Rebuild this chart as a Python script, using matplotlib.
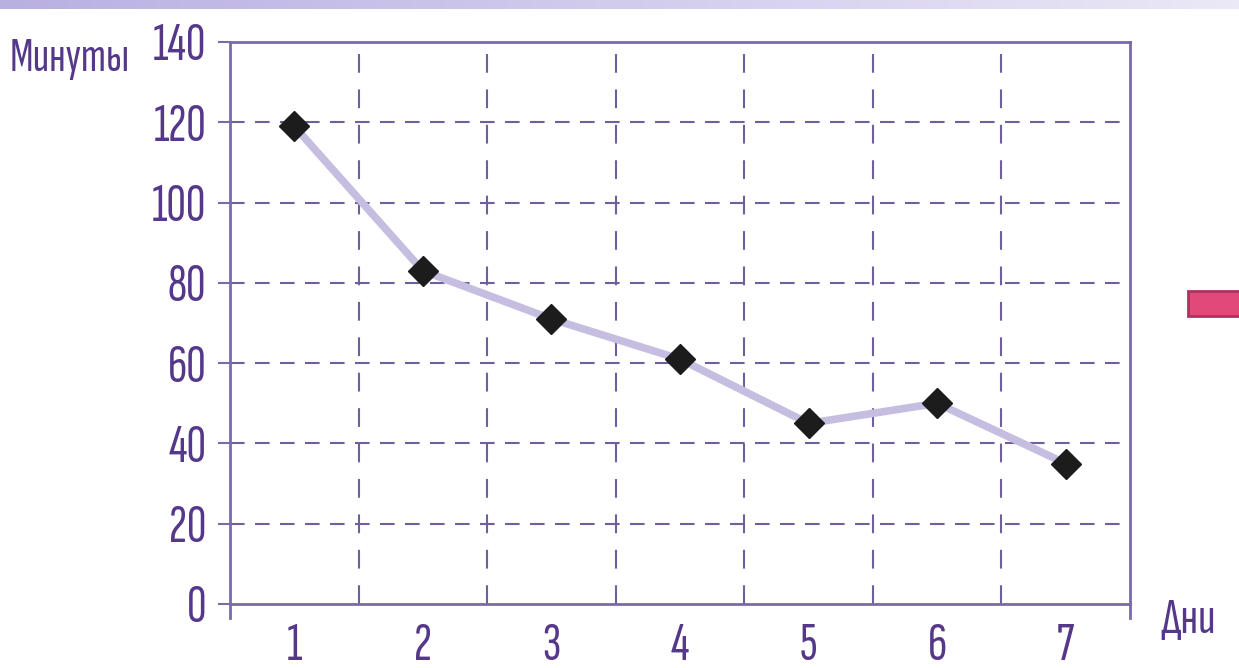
import numpy as np
import matplotlib
matplotlib.use("Agg")
from matplotlib import pyplot as plt
from matplotlib.patches import Rectangle

days = [1, 2, 3, 4, 5, 6, 7]
minutes = [119, 83, 71, 61, 45, 50, 35]
y_ticks = [0, 20, 40, 60, 80, 100, 120, 140]
x_labels = ['1', '2', '3', '4', '5', '6', '7']

fam = ['Sofia Sans Extra Condensed', 'DejaVu Sans']
txt_col = '#553889'
axis_col = '#7b6aa8'
grid_col = '#6f5f9c'

fig = plt.figure(figsize=(12.39, 6.68), dpi=100)
ax = fig.add_axes([230 / 1239, 1 - 604 / 668, 900 / 1239, 562 / 668])

ax.plot(days, minutes, color='#c6bee0', lw=5.5, zorder=3)
ax.plot(days, minutes, ls='none', marker='D', ms=15, color='#1c1c1c', zorder=4)

ax.set_xlim(0.5, 7.5)
ax.set_ylim(0, 140)
ax.set_yticks(y_ticks)
ax.set_yticklabels([str(v) for v in y_ticks], fontsize=39, color=txt_col, family=fam, weight='semibold')
ax.set_xticks(days)
ax.set_xticklabels(x_labels, fontsize=39, color=txt_col, family=fam, weight='semibold')
ax.tick_params(axis='x', length=0, pad=14)
ax.tick_params(axis='y', length=9, width=1.5, color=axis_col, pad=8)

# dashed grid
for v in y_ticks[1:-1]:
    ax.axhline(v, color=grid_col, lw=1.5, ls=(0, (7, 5)), zorder=1)
for b in np.arange(1.5, 7.5, 1):
    ax.axvline(b, color=grid_col, lw=1.5, ls=(0, (9, 8)), zorder=1)

for s in ax.spines.values():
    s.set_color(axis_col)
    s.set_linewidth(2)
# spines run a little below the zero line
ax.axvline(0.5, ymin=-0.025, ymax=0, color=axis_col, lw=2, clip_on=False)
ax.axvline(7.5, ymin=-0.025, ymax=0, color=axis_col, lw=2, clip_on=False)

fig.text(10 / 1239, 1 - 38 / 668, 'Минуты', fontsize=35, color=txt_col, family=fam, weight='semibold', va='top')
fig.text(1160 / 1239, 1 - 598 / 668, 'Дни', fontsize=37, color=txt_col, family=fam, weight='semibold', va='top')

# gradient band at top
band = fig.add_axes([0, 1 - 9 / 668, 1, 9 / 668])
grad = np.linspace(0, 1, 256).reshape(1, -1)
band.imshow(grad, aspect='auto', cmap=matplotlib.colors.LinearSegmentedColormap.from_list('b', ['#b9b0e2', '#ebe8f7']))
band.axis('off')

fig.patches.append(Rectangle((1188 / 1239, 1 - 316 / 668), 60 / 1239, 25 / 668,
                             transform=fig.transFigure, facecolor='#e0497a', edgecolor='#b03060', lw=2))

fig.savefig('out.png', dpi=100)
